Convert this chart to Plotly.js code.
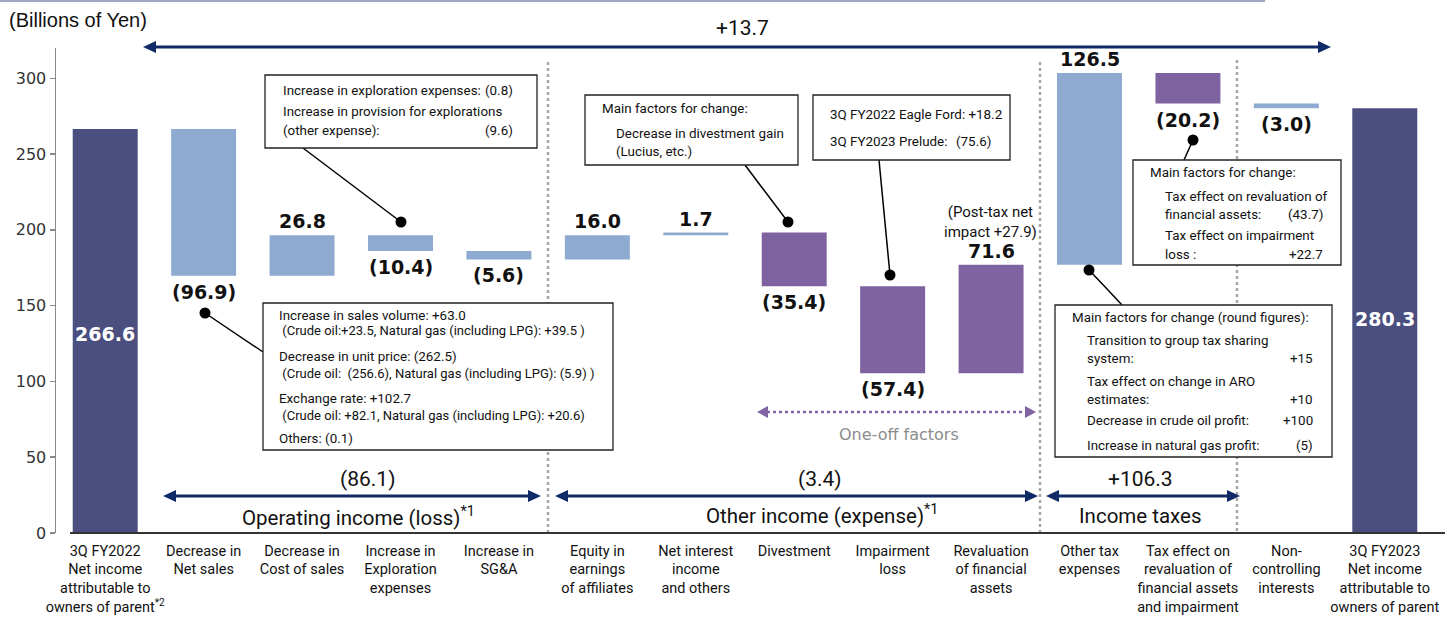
<!DOCTYPE html>
<html><head><meta charset="utf-8">
<script src="https://cdn.plot.ly/plotly-3.0.1.min.js"></script>
<style>html,body{margin:0;padding:0;background:#fff;}#chart{width:1445px;height:619px;}</style>
</head><body><div id="chart"></div>
<script>
// ---------------- data ----------------
const categories = [
  "3Q FY2022<br>Net income<br>attributable to<br>owners of parent<sup>*2</sup>",
  "Decrease in<br>Net sales",
  "Decrease in<br>Cost of sales",
  "Increase in<br>Exploration<br>expenses",
  "Increase in<br>SG&amp;A",
  "Equity in<br>earnings<br>of affiliates",
  "Net interest<br>income<br>and others",
  "Divestment",
  "Impairment<br>loss",
  "Revaluation<br>of financial<br>assets",
  "Other tax<br>expenses",
  "Tax effect on<br>revaluation of<br>financial assets<br>and impairment",
  "Non-<br>controlling<br>interests",
  "3Q FY2023<br>Net income<br>attributable to<br>owners of parent"
];
const changes = [266.6, -96.9, 26.8, -10.4, -5.6, 16.0, 1.7, -35.4, -57.4, 71.6, 126.5, -20.2, -3.0, 280.3];
const isTotal = [true, false, false, false, false, false, false, false, false, false, false, false, false, true];
const barGroup = ["navy","light","light","light","light","light","light","purple","purple","purple","light","purple","light","navy"];
const valueLabels = ["266.6","(96.9)","26.8","(10.4)","(5.6)","16.0","1.7","(35.4)","(57.4)","71.6","126.5","(20.2)","(3.0)","280.3"];
const groupNames = ["Operating income (loss)<sup>*1</sup>", "Other income (expense)<sup>*1</sup>", "Income taxes"];
const groupValues = ["(86.1)", "(3.4)", "+106.3"];
const totalChange = "+13.7";
const yTicks = [0, 50, 100, 150, 200, 250, 300];

// ---------------- derived bars ----------------
const palette = {navy: "#4B4F7F", light: "#8EAAD0", purple: "#7F63A1"};
const bases = [], heights = [], tops = [], bottoms = [];
let run = 0;
changes.forEach((c, i) => {
  let lo, hi;
  if (isTotal[i]) { lo = 0; hi = c; run = c; }
  else { const nxt = run + c; lo = Math.min(run, nxt); hi = Math.max(run, nxt); run = nxt; }
  bases.push(lo); heights.push(hi - lo); bottoms.push(lo); tops.push(hi);
});
const xs = categories.map((_, i) => i);

// ---------------- pixel helpers ----------------
const W = 1445, H = 619, L = 56, R = 1434, T = 48, B = 533;
const PX = x => (x - L) / (R - L);
const PY = y => (B - y) / (B - T);

const NARROW = "Roboto, Liberation Sans, sans-serif";
const VERD = "DejaVu Sans, Verdana, sans-serif";

const shapes = [];
const annotations = [];

function line(x1, y1, x2, y2, color, width, dash) {
  shapes.push({type: "line", xref: "paper", yref: "paper", x0: PX(x1), y0: PY(y1), x1: PX(x2), y1: PY(y2),
    line: {color: color, width: width, dash: dash || "solid"}, layer: "above"});
}
function tri(pts, color) {
  const d = "M" + pts.map(p => PX(p[0]) + "," + PY(p[1])).join(" L") + " Z";
  shapes.push({type: "path", xref: "paper", yref: "paper", path: d, fillcolor: color, line: {color: color, width: 0}, layer: "above"});
}
function dblArrow(x1, x2, y, color, width, dash, hl, hw) {
  line(x1 + hl - 1, y, x2 - hl + 1, y, color, width, dash);
  tri([[x1, y], [x1 + hl, y - hw], [x1 + hl, y + hw]], color);
  tri([[x2, y], [x2 - hl, y - hw], [x2 - hl, y + hw]], color);
}
function rect(x1, y1, x2, y2) {
  shapes.push({type: "rect", xref: "paper", yref: "paper", x0: PX(x1), y0: PY(y1), x1: PX(x2), y1: PY(y2),
    line: {color: "#222", width: 1.3}, fillcolor: "#fff", layer: "above"});
}
function dot(cx, cy, r) {
  shapes.push({type: "circle", xref: "paper", yref: "paper", x0: PX(cx - r), y0: PY(cy - r), x1: PX(cx + r), y1: PY(cy + r),
    fillcolor: "#000", line: {color: "#000", width: 0}, layer: "above"});
}
function txt(text, x, y, opts) {
  opts = opts || {};
  annotations.push({text: text, xref: "paper", yref: "paper", x: PX(x), y: PY(y), showarrow: false,
    xanchor: opts.xa || "left", yanchor: opts.ya || "middle", align: opts.align || "left",
    font: {family: opts.family || NARROW, size: opts.size || 13.4, color: opts.color || "#111"}});
}

// value labels on bars
valueLabels.forEach((t, i) => {
  if (isTotal[i]) {
    annotations.push({text: "<b>" + t + "</b>", xref: "x", yref: "y", x: i, y: i === 0 ? 131 : 141, showarrow: false,
      xanchor: "center", yanchor: "middle", font: {family: VERD, size: 19, color: "#fff"}});
  } else if (changes[i] > 0) {
    annotations.push({text: "<b>" + t + "</b>", xref: "x", yref: "y", x: i, y: tops[i], yshift: 1, showarrow: false,
      xanchor: "center", yanchor: "bottom", font: {family: VERD, size: 19, color: "#111"}});
  } else {
    annotations.push({text: "<b>" + t + "</b>", xref: "x", yref: "y", x: i, y: bottoms[i], yshift: -3, showarrow: false,
      xanchor: "center", yanchor: "top", font: {family: VERD, size: 19, color: "#111"}});
  }
});

// separators
line(548, 62, 548, 533, "#A6A6A6", 2.5, "dot");
line(1040, 62, 1040, 533, "#A6A6A6", 2.5, "dot");
line(1237, 60, 1237, 533, "#A6A6A6", 2.5, "dot");

// x baseline
line(70, 533, 1445, 533, "#333", 2);
// top slide rule
line(0, 1, 1265, 1, "#A0A6C4", 2);

// arrows
const NAVY = "#0F2A66";
dblArrow(143, 1331, 47, NAVY, 3, "solid", 13, 6);
txt(totalChange, 742, 28, {xa: "center", size: 21, color: "#111"});
dblArrow(163, 541, 496, NAVY, 3, "solid", 13, 6);
dblArrow(555, 1038, 496, NAVY, 3, "solid", 13, 6);
dblArrow(1046, 1240, 496, NAVY, 3, "solid", 13, 6);
txt(groupValues[0], 367, 479, {xa: "center", size: 21});
txt(groupValues[1], 820, 479, {xa: "center", size: 21});
txt(groupValues[2], 1140, 479, {xa: "center", size: 21});
txt(groupNames[0], 358, 516, {xa: "center", size: 20.5});
txt(groupNames[1], 822, 514, {xa: "center", size: 20.5});
txt(groupNames[2], 1140, 516, {xa: "center", size: 20.5});

// one-off factors
dblArrow(757, 1036, 412, "#8064A2", 2.5, "dot", 11, 6);
txt("One-off factors", 899, 434, {xa: "center", family: VERD, size: 16, color: "#8C8C8C"});

// Post-tax note
txt("(Post-tax net<br>impact +27.9)", 990, 222, {xa: "center", align: "center", size: 15});

// connectors (drawn before boxes)
line(303, 148, 401, 222, "#000", 1.5); dot(401, 222, 5.5);
line(205, 313, 263, 352, "#000", 1.5); dot(205, 313, 5.5);
line(745, 165, 788, 222, "#000", 1.5); dot(788, 222, 5.5);
line(879, 160, 890, 275, "#000", 1.5); dot(890, 275, 5.5);
line(1193, 140, 1184, 160, "#000", 1.5); dot(1193, 140, 5.5);
line(1089, 270, 1108, 290, "#000", 1.5); line(1108, 290, 1122, 305, "#000", 1.5); dot(1089, 270, 5.5);

// Box A: exploration
rect(265, 75, 537, 148);
txt("Increase in exploration expenses:", 281, 90);
txt("(0.8)", 515, 90, {xa: "right"});
txt("Increase in provision for explorations", 281, 111);
txt("(other expense):", 281, 131);
txt("(9.6)", 515, 131, {xa: "right"});

// Box B: net sales
rect(263, 303, 613, 450);
txt("Increase in sales volume: +63.0", 277, 315);
txt(" (Crude oil:+23.5, Natural gas (including LPG): +39.5 )", 277, 331, {size: 13});
txt("Decrease in unit price: (262.5)", 277, 356);
txt(" (Crude oil:  (256.6), Natural gas (including LPG): (5.9) )", 277, 373, {size: 13});
txt("Exchange rate: +102.7", 277, 398);
txt(" (Crude oil: +82.1, Natural gas (including LPG): +20.6)", 277, 415, {size: 13});
txt("Others: (0.1)", 277, 438);

// Box C: divestment
rect(585, 95, 798, 165);
txt("Main factors for change:", 600, 108);
txt("Decrease in divestment gain", 614, 133);
txt("(Lucius, etc.)", 614, 151);

// Box D: impairment
rect(813, 95, 1010, 160);
txt("3Q FY2022 Eagle Ford: +18.2", 828, 115);
txt("3Q FY2023 Prelude:", 828, 141);
txt("(75.6)", 993, 141, {xa: "right"});

// Box E: tax effect
rect(1133, 160, 1341, 265);
txt("Main factors for change:", 1148, 172);
txt("Tax effect on revaluation of", 1163, 196);
txt("financial assets:", 1163, 214);
txt("(43.7)", 1325, 214, {xa: "right"});
txt("Tax effect on impairment", 1163, 236);
txt("loss :", 1163, 254);
txt("+22.7", 1325, 254, {xa: "right"});

// Box F: other tax
rect(1055, 305, 1332, 457);
txt("Main factors for change (round figures):", 1070, 317);
txt("Transition to group tax sharing", 1085, 340);
txt("system:", 1085, 358);
txt("+15", 1315, 358, {xa: "right"});
txt("Tax effect on change in ARO", 1085, 381);
txt("estimates:", 1085, 399);
txt("+10", 1315, 399, {xa: "right"});
txt("Decrease in crude oil profit:", 1085, 421);
txt("+100", 1315, 421, {xa: "right"});
txt("Increase in natural gas profit:", 1085, 445);
txt("(5)", 1315, 445, {xa: "right"});

// y axis title
annotations.push({text: "(Billions of Yen)", xref: "paper", yref: "paper", x: PX(7), y: PY(20), showarrow: false,
  xanchor: "left", yanchor: "middle", font: {family: "Liberation Sans, Arial, sans-serif", size: 20, color: "#111"}});

const trace = {
  type: "bar", x: xs, y: heights, base: bases, width: 0.66,
  marker: {color: barGroup.map(g => palette[g]), line: {width: 0}},
  hoverinfo: "none", showlegend: false
};

const layout = {
  width: W, height: H,
  margin: {l: L, r: W - R, t: T, b: H - B, pad: 0},
  paper_bgcolor: "#fff", plot_bgcolor: "#fff",
  bargap: 0.34,
  xaxis: {range: [-0.5, 13.5], tickmode: "array", tickvals: xs, ticktext: categories, showline: false, showgrid: false,
    zeroline: false, ticks: "", tickangle: 0, ticklabelstandoff: 7, tickfont: {family: NARROW, size: 14.5, color: "#111"}, fixedrange: true},
  yaxis: {range: [0, 320], tickmode: "array", tickvals: yTicks, showline: true, linecolor: "#888", linewidth: 1.5,
    ticks: "outside", ticklen: 5, tickcolor: "#888", tickwidth: 1.5, showgrid: false, zeroline: false,
    tickfont: {family: VERD, size: 16, color: "#333"}, fixedrange: true},
  shapes: shapes, annotations: annotations
};

Plotly.newPlot("chart", [trace], layout, {displayModeBar: false, staticPlot: true});
</script></body></html>
